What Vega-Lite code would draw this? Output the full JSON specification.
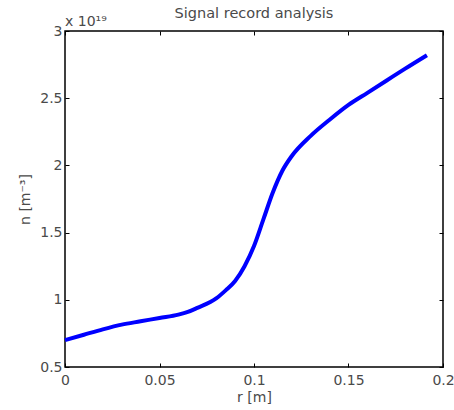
{
  "$schema": "https://vega.github.io/schema/vega-lite/v6.json",
  "autosize": "none",
  "width": 378,
  "height": 336,
  "padding": {"left": 65, "top": 31, "right": 11, "bottom": 43},
  "background": "white",
  "config": {
    "font": "DejaVu Sans",
    "view": {"stroke": "black", "strokeWidth": 1.5},
    "axis": {"grid": false, "domain": false, "tickColor": "black", "tickSize": -4, "labelColor": "#4a4a4a", "labelFont": "DejaVu Sans", "labelFontSize": 14, "titleFont": "DejaVu Sans", "titleFontSize": 14, "titleFontWeight": "normal", "titleColor": "#4a4a4a"}
  },
  "title": {"text": "Signal record analysis", "fontSize": 14.5, "fontWeight": "normal", "color": "#4a4a4a", "font": "DejaVu Sans", "offset": -6},
  "data": {"values": [
    {"r": 0.0, "n": 7.0e18},
    {"r": 0.01, "n": 7.4e18},
    {"r": 0.02, "n": 7.8e18},
    {"r": 0.03, "n": 8.15e18},
    {"r": 0.04, "n": 8.4e18},
    {"r": 0.05, "n": 8.65e18},
    {"r": 0.06, "n": 8.9e18},
    {"r": 0.065, "n": 9.1e18},
    {"r": 0.07, "n": 9.4e18},
    {"r": 0.08, "n": 1.01e19},
    {"r": 0.085, "n": 1.07e19},
    {"r": 0.09, "n": 1.14e19},
    {"r": 0.095, "n": 1.25e19},
    {"r": 0.1, "n": 1.4e19},
    {"r": 0.105, "n": 1.6e19},
    {"r": 0.11, "n": 1.8e19},
    {"r": 0.115, "n": 1.96e19},
    {"r": 0.12, "n": 2.07e19},
    {"r": 0.13, "n": 2.22e19},
    {"r": 0.14, "n": 2.34e19},
    {"r": 0.15, "n": 2.45e19},
    {"r": 0.16, "n": 2.54e19},
    {"r": 0.17, "n": 2.63e19},
    {"r": 0.18, "n": 2.72e19},
    {"r": 0.1915, "n": 2.82e19}
  ]},
  "layer": [
    {
      "mark": {"type": "line", "color": "#0000ff", "strokeWidth": 4, "interpolate": "monotone"},
      "encoding": {
        "x": {"field": "r", "type": "quantitative", "scale": {"domain": [0, 0.2], "nice": false},
          "axis": {"orient": "bottom", "title": "r [m]", "values": [0, 0.05, 0.1, 0.15, 0.2], "format": "~g", "labelPadding": 10, "titlePadding": 3, "labelFlush": false}},
        "y": {"field": "n", "type": "quantitative", "scale": {"domain": [5e18, 3e19], "nice": false, "zero": false},
          "axis": {"orient": "left", "title": "n [m⁻³]", "values": [5e18, 1e19, 1.5e19, 2e19, 2.5e19, 3e19], "labelExpr": "format(datum.value/1e19, '~g')", "labelPadding": 7, "titlePadding": 7, "labelFlush": false}}
      }
    },
    {
      "data": {"values": [{}]},
      "mark": {"type": "rule", "opacity": 0},
      "encoding": {
        "x": {"datum": 0, "type": "quantitative", "axis": {"orient": "top", "labels": false, "title": null, "values": [0, 0.05, 0.1, 0.15, 0.2]}},
        "y": {"datum": 5e18, "type": "quantitative", "axis": {"orient": "right", "labels": false, "title": null, "values": [5e18, 1e19, 1.5e19, 2e19, 2.5e19, 3e19]}}
      }
    },
    {
      "data": {"values": [{"label": "x 10¹⁹"}]},
      "mark": {"type": "text", "align": "left", "baseline": "alphabetic", "dy": -5, "dx": 0, "fontSize": 14, "fontWeight": "normal", "color": "#4a4a4a", "font": "DejaVu Sans"},
      "encoding": {
        "x": {"datum": 0, "type": "quantitative", "axis": null},
        "y": {"datum": 3e19, "type": "quantitative", "axis": null},
        "text": {"field": "label"}
      }
    }
  ]
}
